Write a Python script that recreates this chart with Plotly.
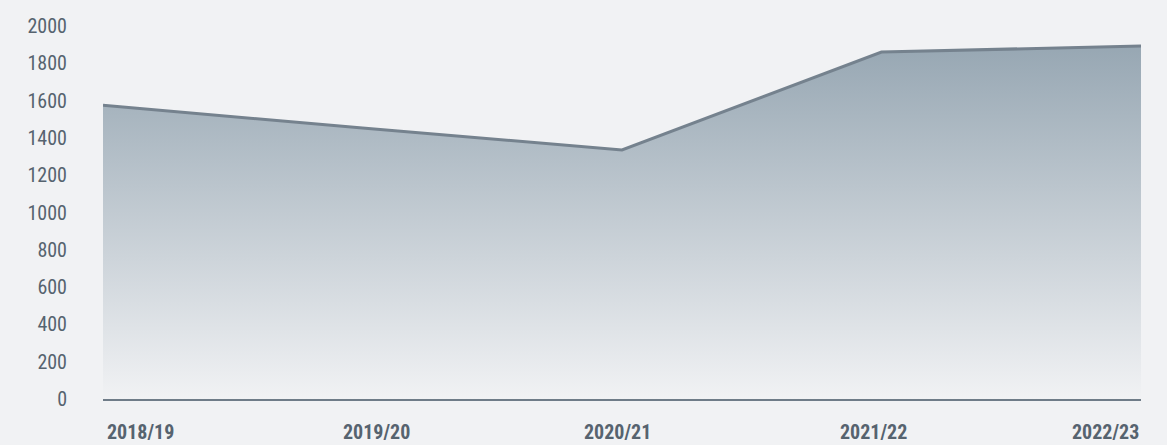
import plotly.graph_objects as go

seasons = ["2018/19", "2019/20", "2020/21", "2021/22", "2022/23"]
values = [1575, 1453, 1335, 1860, 1893]
y_ticks = [0, 200, 400, 600, 800, 1000, 1200, 1400, 1600, 1800, 2000]

BG = "#f1f2f4"
LINE = "#75828e"
TOP = "#97a7b3"
TXT = "#56636f"
FONT = "Roboto Condensed, Liberation Sans Narrow, DejaVu Sans Condensed, sans-serif"

fig = go.Figure()
fig.add_trace(go.Scatter(
    x=seasons, y=values, mode="lines",
    line=dict(color=LINE, width=3),
    fill="tozeroy",
    fillgradient=dict(type="vertical", colorscale=[[0, BG], [1, TOP]]),
    hoverinfo="skip",
))

anchors = ["left", "center", "center", "center", "right"]
shifts = [2, 14, -5, -8, 0]
for s, a, sh in zip(seasons, anchors, shifts):
    fig.add_annotation(
        x=s, xref="x", y=0, yref="paper", yanchor="middle", yshift=-33,
        xanchor=a, xshift=sh, text="<b>%s</b>" % s, showarrow=False,
        font=dict(family=FONT, size=20, color=TXT),
    )

fig.update_layout(
    width=1167, height=445,
    paper_bgcolor=BG, plot_bgcolor=BG,
    margin=dict(l=103, r=26, t=26, b=46),
    showlegend=False,
    xaxis=dict(
        type="category", range=[0, len(seasons) - 1],
        showgrid=False, zeroline=False, showticklabels=False,
        showline=True, linecolor="#6f7c88", linewidth=1.5,
    ),
    yaxis=dict(
        range=[0, 2000], tickvals=y_ticks, showgrid=False, zeroline=False,
        showline=False, ticks="", ticklabelstandoff=35,
        tickfont=dict(family=FONT, size=20, color=TXT),
    ),
)

fig.write_html(
    "out.html",
    config={"displayModeBar": False},
    post_script="document.body.style.margin='0';document.body.style.background='%s';" % BG,
)
